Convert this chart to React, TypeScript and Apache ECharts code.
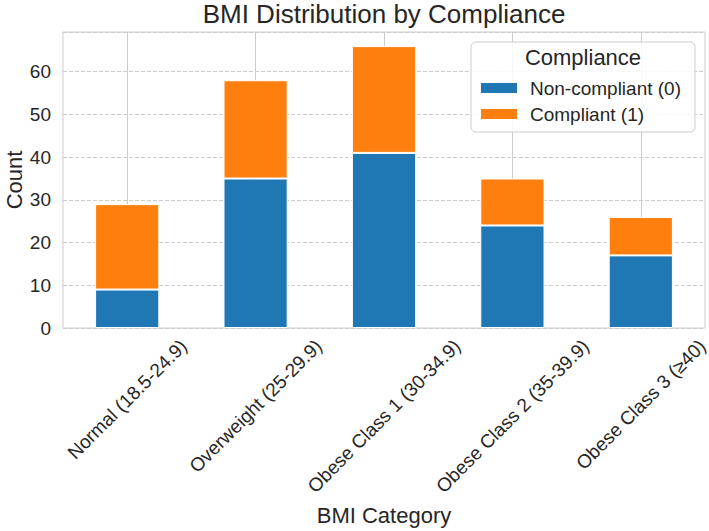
import React, { useEffect, useRef } from "react";
import * as echarts from "echarts";

// BMI categories on the x axis
const categories = [
  "Normal (18.5-24.9)",
  "Overweight (25-29.9)",
  "Obese Class 1 (30-34.9)",
  "Obese Class 2 (35-39.9)",
  "Obese Class 3 (≥40)",
];

// patient counts per category, stacked by compliance group
const nonCompliant = [9, 35, 41, 24, 17];
const compliant = [20, 23, 25, 11, 9];

const seriesNames = ["Non-compliant (0)", "Compliant (1)"];

const FONT = '"Liberation Sans", Arial, Helvetica, sans-serif';
const INK = "#262626";
const TICK_SIZE = 19;

function measure(text: string, size: number): number {
  const ctx = document.createElement("canvas").getContext("2d");
  if (!ctx) return text.length * size * 0.5;
  ctx.font = `${size}px ${FONT}`;
  return ctx.measureText(text).width;
}

export default function App() {
  const ref = useRef<HTMLDivElement>(null);

  useEffect(() => {
    document.body.style.margin = "0";
    if (!ref.current) return;
    const chart = echarts.init(ref.current, undefined, { renderer: "svg" });

    // Rotated tick labels are centred under each tick: the padding shifts
    // every label straight down by half its own rotated length.
    const rich: Record<string, any> = {};
    categories.forEach((c, i) => {
      const p = measure(c, TICK_SIZE) / 2;
      rich["l" + i] = {
        fontSize: TICK_SIZE,
        fontFamily: FONT,
        color: INK,
        padding: [p, p, 0, 0],
      };
    });

    chart.setOption({
      animation: false,
      backgroundColor: "#ffffff",
      textStyle: { fontFamily: FONT, color: INK },
      title: {
        text: "BMI Distribution by Compliance",
        left: 384,
        textAlign: "center",
        top: 1,
        padding: 0,
        textStyle: {
          fontSize: 26,
          fontWeight: "normal",
          color: INK,
          fontFamily: FONT,
        },
      },
      grid: {
        left: 63,
        right: 4,
        top: 32,
        bottom: 203,
        outerBoundsMode: "none",
        containLabel: false,
        show: true,
        borderColor: "#cccccc",
        borderWidth: 1,
        backgroundColor: "transparent",
      },
      legend: {
        orient: "vertical",
        left: 471,
        top: 42,
        data: seriesNames,
        itemWidth: 38,
        itemHeight: 12,
        itemGap: 6,
        icon: "rect",
        padding: [36, 14, 8, 8],
        backgroundColor: "rgba(255,255,255,0.85)",
        borderColor: "#cccccc",
        borderWidth: 1,
        borderRadius: 5,
        textStyle: {
          fontSize: 19,
          lineHeight: 20,
          color: INK,
          fontFamily: FONT,
          padding: [0, 0, 0, 7],
        },
      },
      graphic: [
        {
          type: "text",
          z: 100,
          x: 583,
          y: 57,
          style: {
            text: "Compliance",
            textAlign: "center",
            textVerticalAlign: "middle",
            fontSize: 22,
            fontFamily: FONT,
            fill: INK,
          },
        },
      ],
      xAxis: {
        type: "category",
        data: categories,
        name: "BMI Category",
        nameLocation: "middle",
        nameGap: 176,
        nameMoveOverlap: false,
        nameTextStyle: { fontSize: 22, color: INK, fontFamily: FONT },
        axisLine: { show: false },
        axisTick: { show: false },
        splitLine: {
          show: true,
          alignWithLabel: true,
          lineStyle: { color: "#cccccc", width: 1, type: "solid" },
        },
        axisLabel: {
          interval: 0,
          rotate: 45,
          align: "center",
          verticalAlign: "middle",
          margin: 15,
          fontSize: TICK_SIZE,
          color: INK,
          formatter: (v: string, i: number) => `{l${i}|${v}}`,
          rich,
        },
      },
      yAxis: {
        type: "value",
        min: 0,
        max: 69.3,
        interval: 10,
        name: "Count",
        nameLocation: "middle",
        nameGap: 38,
        nameMoveOverlap: false,
        nameTextStyle: { fontSize: 22, color: INK, fontFamily: FONT },
        axisLine: { show: false },
        axisTick: { show: false },
        axisLabel: {
          fontSize: TICK_SIZE,
          color: INK,
          margin: 12,
          showMaxLabel: false,
        },
        splitLine: {
          show: true,
          lineStyle: { color: "#cccccc", width: 1, type: [4, 2] },
        },
      },
      series: [
        {
          name: seriesNames[0],
          type: "bar",
          stack: "total",
          barWidth: "50%",
          data: nonCompliant,
          itemStyle: { color: "#1f77b4", borderColor: "#ffffff", borderWidth: 1 },
        },
        {
          name: seriesNames[1],
          type: "bar",
          stack: "total",
          barWidth: "50%",
          data: compliant,
          itemStyle: { color: "#ff7f0e", borderColor: "#ffffff", borderWidth: 1 },
        },
      ],
    });

    return () => chart.dispose();
  }, []);

  return (
    <div
      ref={ref}
      style={{ position: "fixed", left: 0, top: 0, width: 709, height: 531 }}
    />
  );
}
